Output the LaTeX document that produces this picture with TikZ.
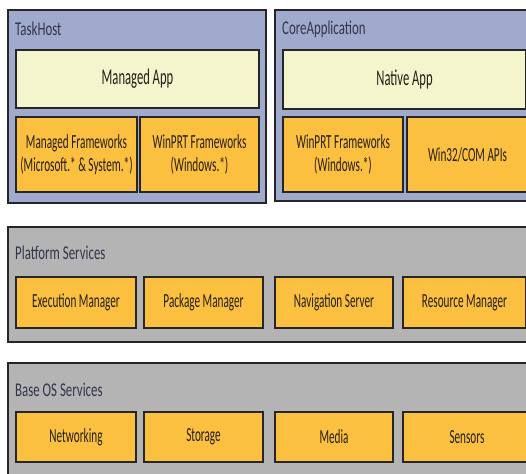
\documentclass[tikz,border=0pt]{standalone}
\usepackage{fontspec}
\setmainfont{Carlito}[FakeStretch=0.56]
\newfontfamily\titlefam{Carlito}[FakeStretch=0.66]
\definecolor{hostblue}{HTML}{A0AACD}
\definecolor{paleyel}{HTML}{F5F5CD}
\definecolor{amber}{HTML}{FCC040}
\definecolor{layergrey}{HTML}{B4B4B4}
\definecolor{edge}{HTML}{262626}
\definecolor{ink}{HTML}{241F18}
\definecolor{lblink}{HTML}{33364A}
\newcommand\boxat[7]{%
  \node[#6, minimum width={(#4-#2)*1pt}, minimum height={(#5-#3)*1pt}]
    (#1) at ({(#2+#4)/2},{(#3+#5)/2}) {#7};
  \draw[edge, line width=2.6pt] (#1.north west) -- (#1.north east);
  \draw[edge, line width=2.6pt] (#1.south west) -- (#1.south east);
}
\begin{document}
\begin{tikzpicture}[x=1pt,y=-1pt,
  outerbox/.style={draw=edge, line width=1.6pt, inner sep=0pt, outer sep=0pt, rectangle},
  hostbox/.style={outerbox, fill=hostblue},
  layerbox/.style={outerbox, fill=layergrey},
  innerbox/.style={draw=edge, line width=1.3pt, inner sep=0pt, outer sep=0pt, rectangle,
     text=ink, align=center, font=\fontsize{20}{23}\selectfont},
  appbox/.style={innerbox, fill=paleyel, font=\fontsize{22.5}{25}\selectfont},
  svcbox/.style={innerbox, fill=amber},
  title/.style={anchor=west, inner sep=0pt, text=lblink, font=\titlefam\fontsize{19.5}{21}\selectfont}]
\useasboundingbox (0,0) rectangle (526,473);
\clip (0,0) rectangle (526,473);
\fill[white] (0,0) rectangle (526,473);
% TaskHost
\boxat{taskhost}{8}{10}{266}{203}{hostbox}{}
\node[title] (thl) at (15,29) {TaskHost};
\boxat{managedapp}{16}{50}{259}{108}{appbox}{Managed App}
\boxat{managedfw}{16}{117}{137}{192}{svcbox}{Managed Frameworks\\(Microsoft.* \& System.*)}
\boxat{winprtA}{140}{117}{259}{192}{svcbox}{WinPRT Frameworks\\(Windows.*)}
% CoreApplication
\boxat{coreapp}{275}{10}{534}{201}{hostbox}{}
\node[title] (cal) at (282,29) {CoreApplication};
\boxat{nativeapp}{283}{50}{526}{109}{appbox}{Native App}
\boxat{winprtB}{283}{117}{403}{192}{svcbox}{WinPRT Frameworks\\(Windows.*)}
\boxat{win32}{407}{117}{528}{192}{svcbox}{Win32/COM APIs}
% Platform Services
\boxat{platform}{8}{227}{534}{342}{layerbox}{}
\node[title] (psl) at (15,253) {Platform Services};
\boxat{execmgr}{16}{277}{136}{328}{svcbox}{Execution Manager}
\boxat{pkgmgr}{144}{277}{263}{328}{svcbox}{Package Manager}
\boxat{navsrv}{275}{277}{393}{328}{svcbox}{Navigation Server}
\boxat{resmgr}{403}{277}{526}{328}{svcbox}{Resource Manager}
% Base OS Services
\boxat{baseos}{8}{363}{534}{482}{layerbox}{}
\node[title] (bol) at (15,390) {Base OS Services};
\boxat{networking}{16}{412}{136}{462}{svcbox}{Networking}
\boxat{storage}{144}{412}{263}{462}{svcbox}{Storage}
\boxat{media}{275}{412}{393}{462}{svcbox}{Media}
\boxat{sensors}{403}{412}{531}{462}{svcbox}{Sensors}
\end{tikzpicture}
\end{document}
